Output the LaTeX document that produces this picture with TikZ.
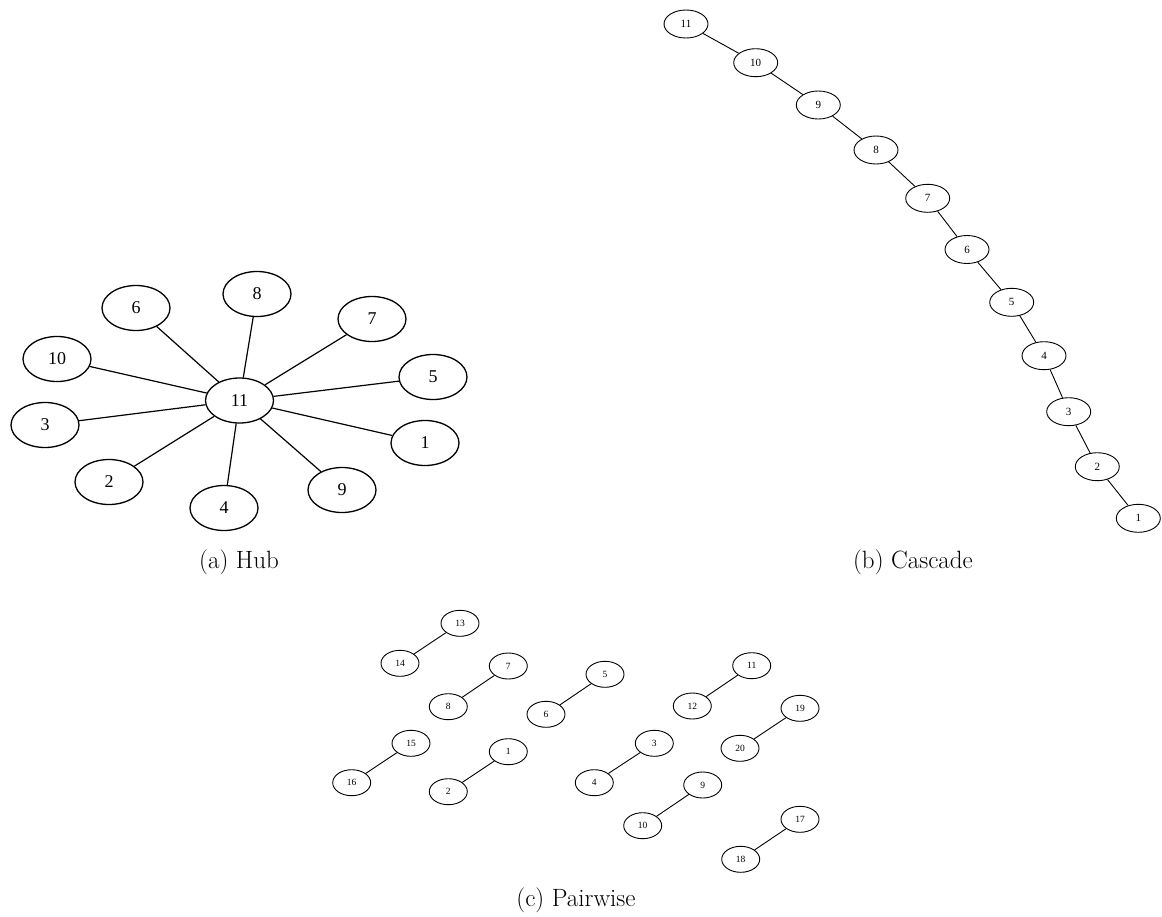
\documentclass[tikz,border=0pt]{standalone}
\usepackage{fontspec}
\newfontfamily\tms{Liberation Serif}
\usetikzlibrary{shapes.geometric}
\tikzset{
  hubnode/.style={ellipse,draw,line width=1.3pt,minimum width=68pt,minimum height=45pt,inner sep=0pt,font=\tms\fontsize{18}{18}\selectfont},
  casnode/.style={ellipse,draw,line width=0.9pt,minimum width=44pt,minimum height=28pt,inner sep=0pt,font=\tms\fontsize{11}{11}\selectfont},
  parnode/.style={ellipse,draw,line width=0.9pt,minimum width=38pt,minimum height=26pt,inner sep=0pt,font=\tms\fontsize{9.5}{9.5}\selectfont},
  hubedge/.style={line width=1.2pt},
  thinedge/.style={line width=0.9pt},
  caption/.style={font=\fontsize{25}{30}\selectfont,inner sep=0pt}
}
\begin{document}
\begin{tikzpicture}[x=1pt,y=-1pt]
\useasboundingbox (0,0) rectangle (1162,916);
% Hub
\node[hubnode] (h11) at (239.5,400.5) {11};
\node[hubnode] (h8) at (257,294) {8};
\node[hubnode] (h6) at (136,308) {6};
\node[hubnode] (h7) at (372,319) {7};
\node[hubnode] (h10) at (57,359) {10};
\node[hubnode] (h5) at (433,377) {5};
\node[hubnode] (h3) at (45,425) {3};
\node[hubnode] (h1) at (425,443) {1};
\node[hubnode] (h2) at (109,482) {2};
\node[hubnode] (h9) at (342,490) {9};
\node[hubnode] (h4) at (224,508) {4};
\foreach \n in {8,6,7,10,5,3,1,2,9,4} \draw[hubedge] (h11) -- (h\n);
\node[caption] (capa) at (239,562) {(a) Hub};
% Cascade
\node[casnode] (c11) at (686,24) {11};
\node[casnode] (c10) at (755.7,62.7) {10};
\node[casnode] (c9) at (818.3,105) {9};
\node[casnode] (c8) at (876,150) {8};
\node[casnode] (c7) at (927.7,198.3) {7};
\node[casnode] (c6) at (967,249.5) {6};
\node[casnode] (c5) at (1011.7,302.3) {5};
\node[casnode] (c4) at (1044,355.7) {4};
\node[casnode] (c3) at (1068.7,411.7) {3};
\node[casnode] (c2) at (1097.3,466.7) {2};
\node[casnode] (c1) at (1138.3,518.3) {1};
\foreach \a/\b in {11/10,10/9,9/8,8/7,7/6,6/5,5/4,4/3,3/2,2/1} \draw[thinedge] (c\a) -- (c\b);
\node[caption] (capb) at (913,562) {(b) Cascade};
% Pairwise
\node[parnode] (p13) at (460,623.3) {13};
\node[parnode] (p14) at (400,663.3) {14};
\node[parnode] (p7) at (508.3,666) {7};
\node[parnode] (p8) at (448.3,706.7) {8};
\node[parnode] (p5) at (605,674.3) {5};
\node[parnode] (p6) at (546,714.3) {6};
\node[parnode] (p11) at (751.7,665.7) {11};
\node[parnode] (p12) at (692.3,706) {12};
\node[parnode] (p19) at (800,708.3) {19};
\node[parnode] (p20) at (740,748.3) {20};
\node[parnode] (p15) at (411,743.3) {15};
\node[parnode] (p16) at (351.7,782.7) {16};
\node[parnode] (p1) at (508.3,751.7) {1};
\node[parnode] (p2) at (448.3,791.7) {2};
\node[parnode] (p3) at (654.3,743.3) {3};
\node[parnode] (p4) at (594.3,782.7) {4};
\node[parnode] (p9) at (702.7,785) {9};
\node[parnode] (p10) at (642.7,825.7) {10};
\node[parnode] (p17) at (800,819.3) {17};
\node[parnode] (p18) at (740.7,859.3) {18};
\foreach \a/\b in {13/14,7/8,5/6,11/12,19/20,15/16,1/2,3/4,9/10,17/18} \draw[thinedge] (p\a) -- (p\b);
\node[caption] (capc) at (576,900) {(c) Pairwise};
\end{tikzpicture}
\end{document}
